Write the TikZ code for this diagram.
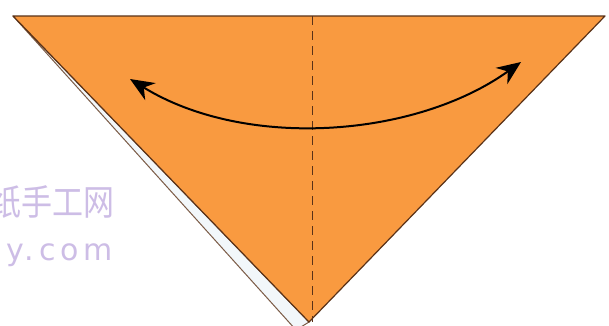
\documentclass[tikz,border=0pt]{standalone}
\usepackage{fontspec}
\newfontfamily\cjk{Noto Sans CJK SC}
\newfontfamily\wmlatin[LetterSpace=16]{DejaVu Sans}
\usetikzlibrary{arrows.meta, calc}
\definecolor{paperorange}{HTML}{F99A40}
\definecolor{edgebrown}{HTML}{5A3218}
\definecolor{markwhite}{HTML}{F2F7FA}
\definecolor{wmpurple}{HTML}{CDBDE6}

\begin{document}
\begin{tikzpicture}[x=1pt, y=-1pt,
    paper/.style={fill=paperorange, draw=edgebrown, line width=1.2pt, line join=round},
    backlayer/.style={fill=markwhite, draw=edgebrown!80, line width=1pt, line join=round},
    foldline/.style={draw=edgebrown, line width=1pt, dash pattern=on 9pt off 6pt},
    swingarrow/.style={draw=black, line width=2pt, {Stealth[length=24pt, width=20pt]}-{Stealth[length=24pt, width=20pt]}},
    watermark/.style={text=wmpurple, inner sep=0pt}]
    \useasboundingbox (0,0) rectangle (609,325);
    % corners of the folded square
    \coordinate (topleft) at (13,16);
    \coordinate (topright) at (605,16);
    \coordinate (apex) at (309,322);
    \coordinate (backapex) at (296,330);
    % paper
    \fill[white] (0,0) rectangle (609,325);
    \path[backlayer] (topleft) -- (backapex) -- (apex) -- cycle;
    \path[paper] (topleft) -- (topright) -- (apex) -- cycle;
    \draw[foldline] (312,16) -- (312,322);
    % swing arrow
    \coordinate (leftend) at (130,79);
    \coordinate (rightend) at (521,62);
    \draw[swingarrow] (leftend) .. controls (245,150) and (415,138) .. (rightend);
    % watermark
    \node[watermark, font=\cjk\fontsize{31}{31}\selectfont, yscale=1.15, anchor=east] (wmcn) at (115,202) {纸手工网};
    \node[watermark, font=\wmlatin\fontsize{30}{30}\selectfont, anchor=base east] (wmurl) at (113,260) {y.com};
  \end{tikzpicture}
\end{document}
